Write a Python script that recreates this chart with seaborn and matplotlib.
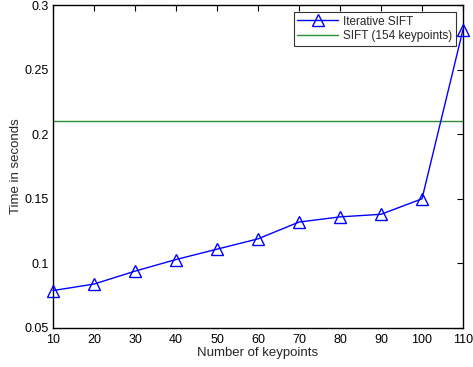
import matplotlib
matplotlib.use("Agg")
import matplotlib.pyplot as plt
import seaborn as sns
import pandas as pd

keypoints = [10, 20, 30, 40, 50, 60, 70, 80, 90, 100, 110]
iter_time = [0.079, 0.084, 0.094, 0.103, 0.111, 0.119, 0.132, 0.136, 0.138, 0.150, 0.281]
sift_time = 0.21
xticks = [10, 20, 30, 40, 50, 60, 70, 80, 90, 100, 110]
yticks = [0.05, 0.1, 0.15, 0.2, 0.25, 0.3]
yticklabels = ["0.05", "0.1", "0.15", "0.2", "0.25", "0.3"]

sns.set_theme(style="white")
plt.rcParams['font.family'] = ['Liberation Sans', 'DejaVu Sans']

df = pd.DataFrame({"k": keypoints, "t": iter_time})

fig = plt.figure(figsize=(4.73, 3.67), dpi=100)
ax = fig.add_axes([53/473, 1 - 328/367, (463-53)/473, (328-5)/367])

sns.lineplot(data=df, x="k", y="t", ax=ax, color="#0000ff", lw=1.0,
             marker="^", markersize=9, markerfacecolor="none",
             markeredgecolor="#0000ff", markeredgewidth=1.0,
             label="Iterative SIFT", clip_on=False, zorder=5)
ax.axhline(sift_time, color="#2e8b2e", lw=1.0, label="SIFT (154 keypoints)")

ax.set_xlim(10, 110)
ax.set_ylim(0.05, 0.3)
ax.set_xticks(xticks)
ax.set_xticklabels([str(v) for v in xticks])
ax.set_yticks(yticks)
ax.set_yticklabels(yticklabels)
ax.tick_params(direction="in", length=4, width=0.8, top=True, right=True,
               labelsize=9, colors="black")
ax.tick_params(axis="x", pad=4)
ax.tick_params(axis="y", pad=3)
for s in ax.spines.values():
    s.set_visible(True)
    s.set_color("black")
    s.set_linewidth(1.0)
ax.set_xlabel("Number of keypoints", fontsize=9.5, labelpad=1)
ax.set_ylabel("Time in seconds", fontsize=9.5, labelpad=2)
ax.grid(False)

leg = ax.legend(loc="upper right", fontsize=8.5, frameon=True, fancybox=False,
                edgecolor="black", borderaxespad=0.6, handlelength=3.5,
                borderpad=0.3, labelspacing=0.2, handletextpad=0.4)
leg.get_frame().set_linewidth(0.8)
leg.set_zorder(10)

fig.savefig("out.png", dpi=100)
